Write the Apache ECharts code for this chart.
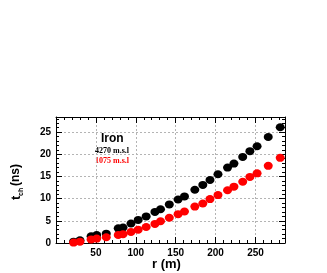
<!DOCTYPE html>
<html><head><meta charset="utf-8">
<script src="https://cdn.jsdelivr.net/npm/echarts@6/dist/echarts.min.js"></script>
<style>html,body{margin:0;padding:0;background:#fff}#c{width:327px;height:273px}</style>
</head><body><div id="c"></div>
<script>
var rValues = [22, 30, 44, 51, 63, 78, 84, 94, 103, 113, 124, 131, 142, 153, 161, 174, 184, 193, 203, 215, 223, 234, 243, 252, 266, 281];
var t4270 = [0.3, 0.6, 1.5, 1.8, 2.1, 3.3, 3.5, 4.4, 5.2, 6.0, 7.0, 7.6, 8.7, 9.8, 10.5, 12.0, 13.1, 14.2, 15.5, 17.0, 17.9, 19.4, 20.7, 21.8, 23.9, 26.1];
var t1075 = [0.1, 0.3, 0.8, 1.0, 1.3, 1.8, 2.0, 2.5, 3.0, 3.6, 4.3, 4.9, 5.7, 6.5, 7.1, 8.2, 8.9, 9.9, 10.8, 11.9, 12.7, 13.8, 14.9, 15.7, 17.4, 19.2];
var xTicks = [50, 100, 150, 200, 250];
var yTicks = [0, 5, 10, 15, 20, 25];

var chart = echarts.init(document.getElementById('c'), null, {renderer: 'canvas'});
function pairs(xs, ys){ return xs.map(function(x,i){return [x, ys[i]];}); }
var sans = 'Liberation Sans';
var xMin = 0, xMax = 287, yMin = 0, yMax = 28.4;
function axisCommon(showLabels, isX){
  return {
    type: 'value', min: isX ? xMin : yMin, max: isX ? xMax : yMax, interval: isX ? 50 : 5,
    axisLine: {show: true, onZero: false, lineStyle: {color: '#000', width: 1}},
    axisTick: {show: true, inside: true, length: 6, lineStyle: {color: '#000'}},
    minorTick: {show: true, splitNumber: 5, length: 3, lineStyle: {color: '#000'}},
    axisLabel: {show: showLabels, color: '#000', fontFamily: sans, fontWeight: 'bold', fontSize: 10,
      showMinLabel: isX ? false : true, showMaxLabel: false, margin: 5,
      formatter: function(v){ var arr = isX ? xTicks : yTicks; return arr.indexOf(v) >= 0 ? String(v) : ''; }},
    splitLine: {show: false}
  };
}
var xb = axisCommon(true, true);
xb.position = 'bottom';
xb.splitLine = {show: true, lineStyle: {color: '#b4b4b4', type: [2, 2], width: 1}};
var xt = axisCommon(false, true); xt.position = 'top';
var yl = axisCommon(true, false); yl.position = 'left';
yl.splitLine = {show: true, lineStyle: {color: '#b4b4b4', type: [2, 2], width: 1}};
var yr = axisCommon(false, false); yr.position = 'right';

chart.setOption({
  animation: false,
  grid: {left: 56, right: 42, top: 117, bottom: 30, containLabel: false},
  xAxis: [xb, xt],
  yAxis: [yl, yr],
  series: [
    {type: 'scatter', name: '4270 m.s.l', xAxisIndex: 0, yAxisIndex: 0, data: pairs(rValues, t4270),
      symbol: 'circle', symbolSize: [9, 8], itemStyle: {color: '#000', opacity: 1}},
    {type: 'scatter', name: '1075 m.s.l', xAxisIndex: 0, yAxisIndex: 0, data: pairs(rValues, t1075),
      symbol: 'circle', symbolSize: [9, 8], itemStyle: {color: '#ff0000', opacity: 1}}
  ],
  graphic: [
    {type: 'text', left: 101, top: 133, style: {text: 'Iron', font: 'bold 12px "Liberation Sans"', fill: '#000'}},
    {type: 'text', left: 95, top: 147, style: {text: '4270 m.s.l', font: 'bold 8px "Liberation Serif"', fill: '#000'}},
    {type: 'text', left: 95, top: 157, style: {text: '1075 m.s.l', font: 'bold 8px "Liberation Serif"', fill: '#ff0000'}},
    {type: 'text', left: 152, top: 258, style: {text: 'r (m)', font: 'bold 13px "Liberation Sans"', fill: '#000'}},
    {type: 'group', x: 16, y: 183, rotation: Math.PI / 2, children: [
      {type: 'text', x: -17, y: 0, style: {text: 't', font: 'bold 13px "Liberation Sans"', fill: '#000', textVerticalAlign: 'middle', verticalAlign: 'middle'}},
      {type: 'text', x: -13, y: 5, style: {text: 'ch', font: 'bold 7px "Liberation Sans"', fill: '#000', textVerticalAlign: 'middle', verticalAlign: 'middle'}},
      {type: 'text', x: -3, y: 0, style: {text: '(ns)', font: 'bold 12px "Liberation Sans"', fill: '#000', textVerticalAlign: 'middle', verticalAlign: 'middle'}}
    ]}
  ]
});
</script></body></html>
